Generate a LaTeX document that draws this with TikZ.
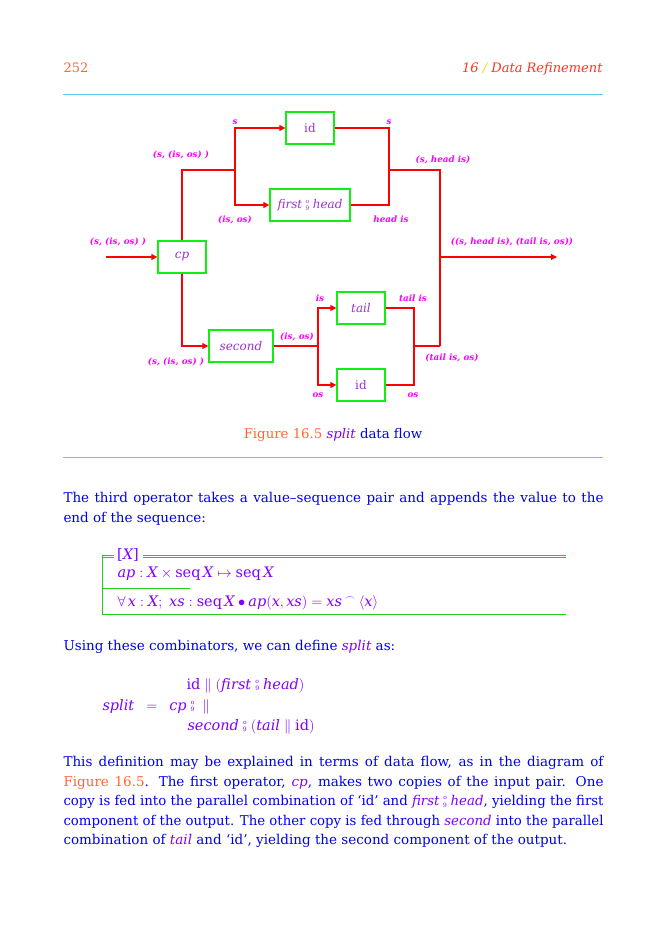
\documentclass[tikz,border=0pt]{standalone}
\usepackage{fontspec}
\usepackage{graphicx}
\setmainfont{DejaVu Serif}
\usetikzlibrary{arrows.meta, positioning}
\definecolor{cwire}{HTML}{FF0000}
\definecolor{cbox}{HTML}{11EE11}
\definecolor{clabel}{HTML}{FF00FF}
\definecolor{cname}{HTML}{9933CC}
\definecolor{cmath}{HTML}{8000FF}
\definecolor{ctext}{HTML}{0000F0}
\definecolor{corange}{HTML}{FF6633}
\definecolor{chead}{HTML}{FF3322}
\definecolor{cslash}{HTML}{FFD700}
\definecolor{crule}{HTML}{5CC8EC}
\definecolor{cschema}{HTML}{22CC22}
\newcommand{\zsemi}{\ensuremath{\vcenter{\hbox{\fontsize{6}{6}\selectfont\upshape\shortstack{o\\9}}}}}
\newcommand{\zit}[1]{{\color{cmath}\itshape #1}}
% one justified text line, squeezed if it is too long
\newlength{\linew}\setlength{\linew}{540pt}
\newsavebox{\linebox}
\newcommand{\jline}[1]{\sbox{\linebox}{#1}\ifdim\wd\linebox>\linew\resizebox{\linew}{\height}{\usebox{\linebox}}\else\hbox to\linew{#1}\fi}
\tikzset{
  every picture/.style={line width=1pt},
  blk/.style={draw=cbox, line width=1.3pt, minimum width=#1, minimum height=32pt, inner sep=0pt, text=cname, font=\fontsize{12}{14}\selectfont},
  blk/.default=48pt,
  lbl/.style={text=clabel, font=\fontsize{8.8}{10}\selectfont\bfseries\itshape, inner sep=1pt},
  wire/.style={draw=cwire, line width=1.1pt},
  flow/.style={wire, -{Triangle[length=6pt, width=6pt]}},
  body/.style={anchor=base west, inner sep=0pt, text=ctext, font=\fontsize{13.5}{19}\selectfont},
  zed/.style={body, text=cmath, font=\fontsize{14.5}{19}\selectfont},
  rulel/.style={draw=crule, line width=1pt},
  schema/.style={draw=cschema, line width=1pt},
}
\begin{document}
\begin{tikzpicture}[x=1pt, y=-1pt]
  \useasboundingbox (0,0) rectangle (666,952);
  % running head
  \node[body, font=\fontsize{13}{19}\selectfont, text=corange] (pg) at (63,72.7) {252};
  \node[body, font=\fontsize{13}{19}\selectfont, anchor=base east, text=chead] (run) at (603,72.7) {\itshape 16 {\color{cslash}/} Data Refinement};
  \draw[rulel] (63,95) -- (603,95);
  % the diagram
  \node[blk] (id1) at (310,128) {id};
  \node[blk=80pt] (fh) at (310,205) {\itshape first\;\zsemi\;head};
  \node[blk] (cp) at (182,257) {\itshape cp};
  \node[blk] (tl) at (361,308) {\itshape tail};
  \node[blk=64pt] (snd) at (241,346) {\itshape second};
  \node[blk] (id2) at (361,385) {id};
  \coordinate (in) at (106,257);
  \coordinate (ja) at (235,170);
  \coordinate (jb) at (389,170);
  \coordinate (jc) at (440,257);
  \coordinate (out) at (557,257);
  \coordinate (jd) at (318,346);
  \coordinate (je) at (414,346);
  \coordinate (jf) at (440,346);
  \draw[flow] (in) -- (cp);
  \draw[wire] (cp) |- (ja);
  \draw[flow] (ja) |- (id1);
  \draw[flow] (ja) |- (fh);
  \draw[wire] (id1) -| (jb);
  \draw[wire] (fh) -| (jb);
  \draw[wire] (jb) -| (jf);
  \draw[flow] (jc) -- (out);
  \draw[flow] (cp) |- (snd);
  \draw[wire] (snd) -- (jd);
  \draw[flow] (jd) |- (tl);
  \draw[flow] (jd) |- (id2);
  \draw[wire] (tl) -| (je);
  \draw[wire] (id2) -| (je);
  \draw[wire] (je) -- (jf);
  % wire labels
  \node[lbl] (lin) at (118,242) {(s, (is, os) )};
  \node[lbl] (lup) at (181,155) {(s, (is, os) )};
  \node[lbl] (ls1) at (235,122) {s};
  \node[lbl] (lisos1) at (235,220) {(is, os)};
  \node[lbl] (ls2) at (389,122) {s};
  \node[lbl] (lhead) at (391,219) {head is};
  \node[lbl] (lshead) at (443,160) {(s, head is)};
  \node[lbl] (lout) at (512,242) {((s, head is), (tail is, os))};
  \node[lbl] (lis) at (320,298) {is};
  \node[lbl] (ltailis) at (413,298) {tail is};
  \node[lbl] (lisos2) at (297,337) {(is, os)};
  \node[lbl] (ldown) at (176,362) {(s, (is, os) )};
  \node[lbl] (los1) at (318,395) {os};
  \node[lbl] (los2) at (413,395) {os};
  \node[lbl] (ltailos) at (452,358) {(tail is, os)};
  % caption
  \node[body, anchor=base, font=\fontsize{13.3}{19}\selectfont] (cap) at (333,438.3) {{\color{corange}Figure 16.5}\ \zit{split} data flow};
  \draw[rulel] (63,457) -- (603,457);
  % text
  \node[body] (p1a) at (63,502.7) {\jline{The third operator takes a value–sequence pair and appends the value to the}};
  \node[body] (p1b) at (63,522.3) {end of the sequence:};
  % schema
  \node[zed, anchor=base] (gen) at (128,559) {[$\mathit{X}$]};
  \draw[schema] (102,555) -- (114,555) (102,557.5) -- (114,557.5);
  \draw[schema] (143,555) -- (566,555) (143,557.5) -- (566,557.5);
  \draw[schema] (102,555) -- (102,614) -- (566,614);
  \draw[schema] (102,588) -- (190,588);
  \node[zed] (decl) at (117,577.7) {$\mathit{ap} : \mathit{X} \times \mathrm{seq}\,\mathit{X} \mapsto \mathrm{seq}\,\mathit{X}$};
  \node[zed] (pred) at (117,606) {$\forall\,\mathit{x} : \mathit{X};\ \mathit{xs} : \mathrm{seq}\,\mathit{X} \bullet \mathit{ap}(\mathit{x}, \mathit{xs}) = \mathit{xs} \mathbin{{}^\frown} \langle \mathit{x}\rangle$};
  \node[body] (p2) at (63,650.7) {Using these combinators, we can define \zit{split} as:};
  % definition of split
  \node[zed] (eq1) at (186,689) {$\mathrm{id} \parallel (\mathit{first} \;\zsemi\; \mathit{head})$};
  \node[zed] (eq2) at (102,710) {$\mathit{split} \;\;=\;\; \mathit{cp} \;\zsemi\; \parallel$};
  \node[zed] (eq3) at (187,730) {$\mathit{second} \;\zsemi\; (\mathit{tail} \parallel \mathrm{id})$};
  \node[body] (p3a) at (63,766.7) {\jline{This definition may be explained in terms of data flow, as in the diagram of}};
  \node[body] (p3b) at (63,786) {\jline{{\color{corange}Figure 16.5}.  The first operator, \zit{cp}, makes two copies of the input pair.  One}};
  \node[body] (p3c) at (63,805.5) {\jline{copy is fed into the parallel combination of ‘id’ and \zit{first\;\zsemi\;head}, yielding the first}};
  \node[body] (p3d) at (63,825) {\jline{component of the output.  The other copy is fed through \zit{second} into the parallel}};
  \node[body] (p3e) at (63,844.5) {combination of \zit{tail} and ‘id’, yielding the second component of the output.};
\end{tikzpicture}
\end{document}
